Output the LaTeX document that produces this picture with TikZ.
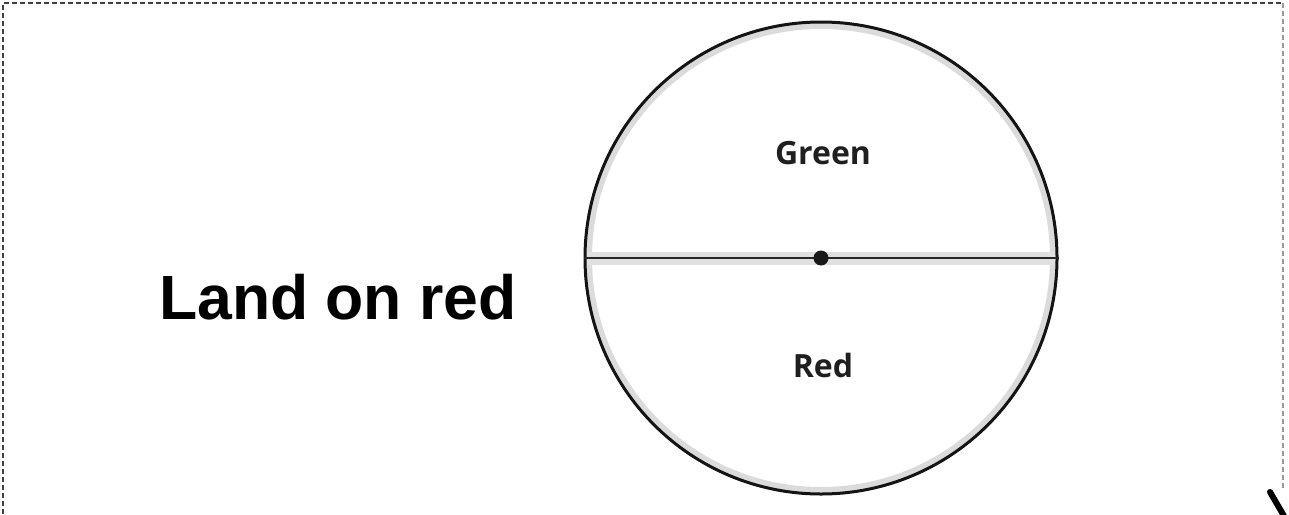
\documentclass[tikz,border=0pt]{standalone}
\usepackage{fontspec}
\setmainfont{Liberation Sans}
\newfontfamily\labelfont{Open Sans}
\begin{document}
\begin{tikzpicture}[x=1pt,y=-1pt,
  frame/.style={dash pattern=on 5pt off 3pt, line width=1.7pt},
  ring/.style={draw=black!92, line width=3pt, circle, minimum size=472pt, inner sep=0pt},
  band/.style={draw=black!14, line width=6pt},
  sector/.style={font=\labelfont\bfseries\fontsize{32}{36}\selectfont, text=black!88},
  title/.style={font=\bfseries\fontsize{62.5}{70}\selectfont, text=black}]
\useasboundingbox (0,0) rectangle (1289,514);
% frame
\draw[frame, draw=black!75] (3,514) -- (3,3) -- (1283,3);
\draw[frame, draw=black!40] (1283,3) -- (1283,488);
% wheel
\draw[band] (821,258) circle (232);
\draw[line width=13pt, draw=black!12] (587,258) -- (1055,258);
\node[ring] (wheel) at (821,258) {};
\draw[line width=1.8pt, draw=black!85] (wheel.west) -- (wheel.east);
\node[circle, fill=black!90, minimum size=15pt, inner sep=0pt] (hub) at (wheel.center) {};
\node[sector] (green) at (823,153) {Green};
\node[sector] (red) at (823,365) {Red};
\node[title] (land) at (338,297) {Land on red};
% partial mark at bottom right
\coordinate (m1) at (1270,492);
\coordinate (m2) at (1284,516);
\draw[line width=6pt, line cap=round] (m1) -- (m2);
\end{tikzpicture}
\end{document}
